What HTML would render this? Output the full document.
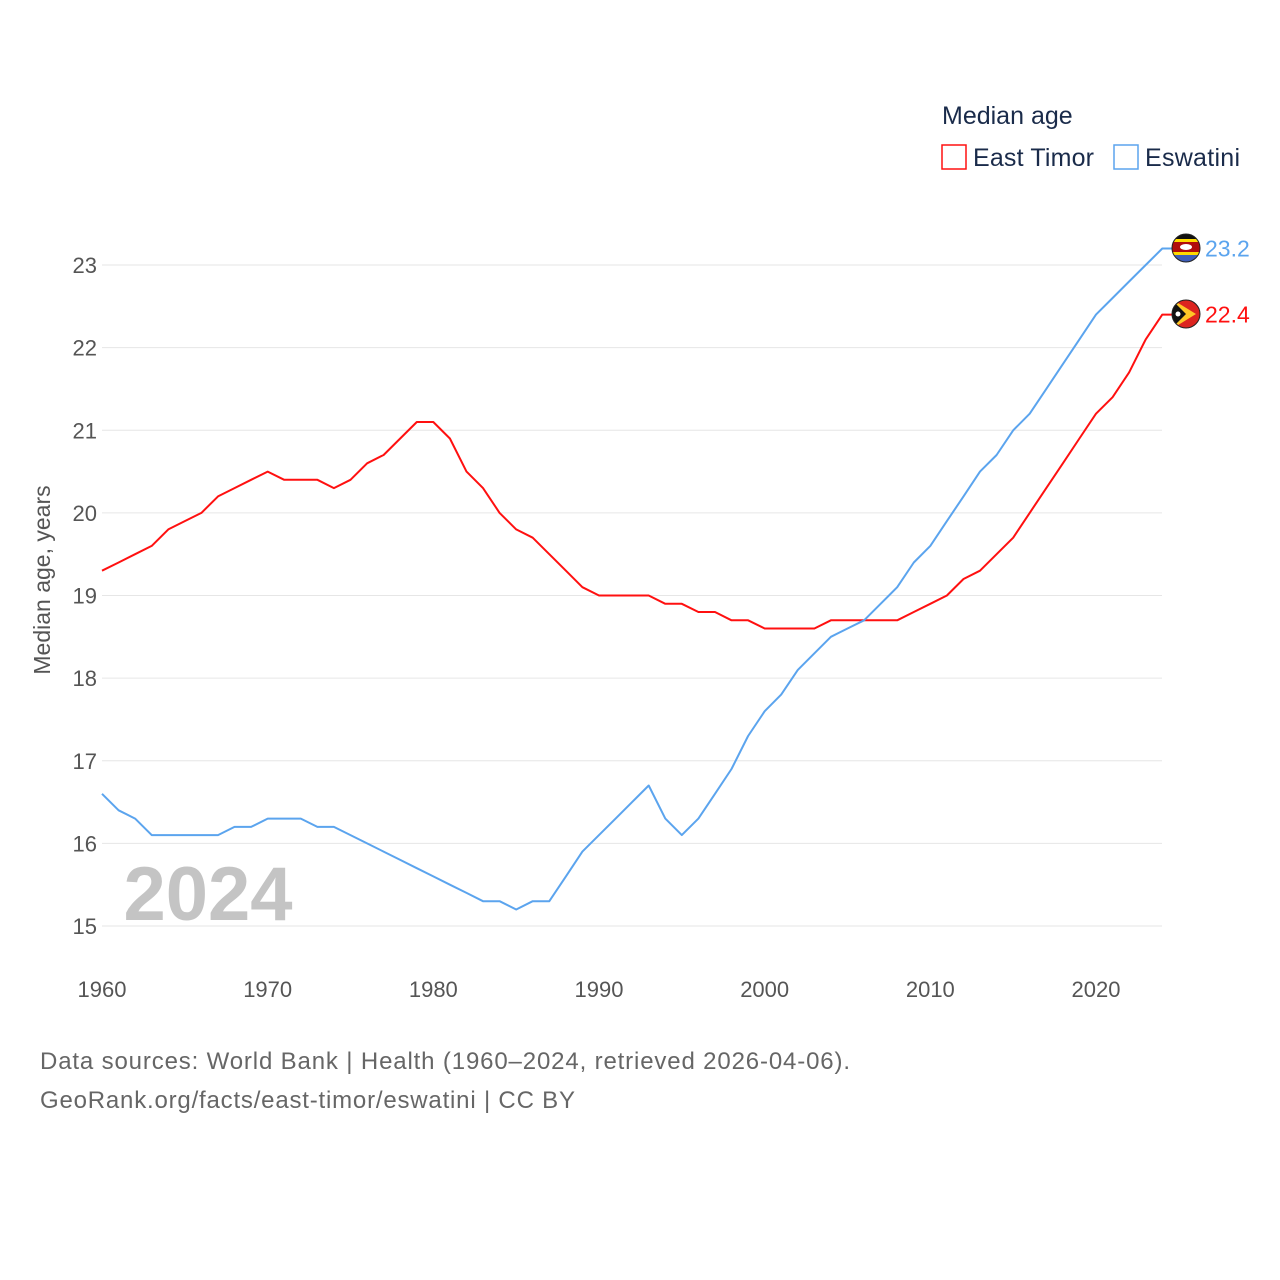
<!DOCTYPE html>
<html><head><meta charset="utf-8"><style>
body{margin:0;background:#fff;}
svg{display:block;font-family:"Liberation Sans",sans-serif;}
</style></head><body>
<svg id="chart" width="1280" height="1280">
<defs>
<clipPath id="c1"><circle cx="1186" cy="248" r="14"/></clipPath>
<clipPath id="c2"><circle cx="1186" cy="314" r="14"/></clipPath>
</defs>
<g id="grid"></g>
<g id="yticks"></g>
<g id="xticks"></g>
<text x="208" y="920" font-size="76" font-weight="bold" fill="#c4c4c4" text-anchor="middle">2024</text>
<text transform="translate(50,580) rotate(-90)" font-size="23" fill="#555" text-anchor="middle">Median age, years</text>
<g id="series"></g>
<text x="942" y="124" font-size="25" fill="#1a2b4a">Median age</text>
<g>
<rect x="942" y="145" width="24" height="24" fill="none" stroke="#ff1010" stroke-width="1.5"/>
<text x="973" y="166" font-size="25" fill="#1a2b4a" textLength="121">East Timor</text></g>
<g>
<rect x="1114" y="145" width="24" height="24" fill="none" stroke="#5ba4ee" stroke-width="1.5"/>
<text x="1145" y="166" font-size="25" fill="#1a2b4a" textLength="95">Eswatini</text></g>
<text x="40" y="1069" font-size="24" fill="#666" textLength="810">Data sources: World Bank | Health (1960–2024, retrieved 2026-04-06).</text>
<text x="40" y="1108" font-size="24" fill="#666" textLength="535">GeoRank.org/facts/east-timor/eswatini | CC BY</text>
<g clip-path="url(#c1)">
<rect x="1170" y="232" width="32" height="32" fill="#111"/>
<rect x="1170" y="239" width="32" height="3" fill="#ffd900"/>
<rect x="1170" y="242" width="32" height="10" fill="#b10c0c"/>
<rect x="1170" y="252" width="32" height="3" fill="#ffd900"/>
<rect x="1170" y="255" width="32" height="10" fill="#3e5eb9"/>
<ellipse cx="1186" cy="247" rx="6" ry="3" fill="#fff"/>
</g>
<g clip-path="url(#c2)">
<rect x="1170" y="298" width="32" height="32" fill="#dc241f"/>
<polygon points="1170,298 1196,314 1170,330" fill="#ffc726"/>
<polygon points="1170,298 1186,314 1170,330" fill="#111"/>
<circle cx="1178" cy="314" r="2.5" fill="#fff"/>
</g>
<circle cx="1186" cy="248" r="14" fill="none" stroke="#222" stroke-width="1"/>
<circle cx="1186" cy="314" r="14" fill="none" stroke="#222" stroke-width="1"/>
</svg>
<script>
const years=[];for(let y=1960;y<=2024;y++)years.push(y);
const eastTimor=[19.3,19.4,19.5,19.6,19.8,19.9,20.0,20.2,20.3,20.4,20.5,20.4,20.4,20.4,20.3,20.4,20.6,20.7,20.9,21.1,21.1,20.9,20.5,20.3,20.0,19.8,19.7,19.5,19.3,19.1,19.0,19.0,19.0,19.0,18.9,18.9,18.8,18.8,18.7,18.7,18.6,18.6,18.6,18.6,18.7,18.7,18.7,18.7,18.7,18.8,18.9,19.0,19.2,19.3,19.5,19.7,20.0,20.3,20.6,20.9,21.2,21.4,21.7,22.1,22.4];
const eswatini=[16.6,16.4,16.3,16.1,16.1,16.1,16.1,16.1,16.2,16.2,16.3,16.3,16.3,16.2,16.2,16.1,16.0,15.9,15.8,15.7,15.6,15.5,15.4,15.3,15.3,15.2,15.3,15.3,15.6,15.9,16.1,16.3,16.5,16.7,16.3,16.1,16.3,16.6,16.9,17.3,17.6,17.8,18.1,18.3,18.5,18.6,18.7,18.9,19.1,19.4,19.6,19.9,20.2,20.5,20.7,21.0,21.2,21.5,21.8,22.1,22.4,22.6,22.8,23.0,23.2];
const yTicks=[15,16,17,18,19,20,21,22,23];
const xTicks=[1960,1970,1980,1990,2000,2010,2020];
const NS="http://www.w3.org/2000/svg";
const X=v=>102+(v-1960)*(994/60);
const Y=v=>926-(v-15)*(661/8);
function mk(tag,attrs,parent,text){const e=document.createElementNS(NS,tag);for(const k in attrs)e.setAttribute(k,attrs[k]);if(text!=null)e.textContent=text;parent.appendChild(e);return e;}
const grid=document.getElementById('grid'),yt=document.getElementById('yticks'),xt=document.getElementById('xticks'),ser=document.getElementById('series');
yTicks.forEach(t=>{
const l=mk('line',{x1:102,x2:1162,y1:Y(t),y2:Y(t),stroke:'#e6e6e6','stroke-width':1},grid);


const tx=mk('text',{x:97,y:Y(t)+8,'font-size':22,fill:'#555','text-anchor':'end'},yt,String(t));


});
xTicks.forEach(t=>{
const tx=mk('text',{x:X(t),y:997,'font-size':22,fill:'#555','text-anchor':'middle'},xt,String(t));


});
function drawSeries(vals,color,name,label){
const pts=vals.map((v,i)=>X(years[i]).toFixed(1)+','+Y(v).toFixed(1));
const last=vals[vals.length-1];
pts.push((X(2024)+10)+','+Y(last).toFixed(1));
const p=mk('polyline',{points:pts.join(' '),fill:'none',stroke:color,'stroke-width':2,'stroke-linejoin':'round'},ser);


const t=mk('text',{x:1205,y:Y(last)+8,'font-size':23,fill:color},ser,label);


}
drawSeries(eastTimor,'#ff1010','east-timor',String(eastTimor[eastTimor.length-1]));
drawSeries(eswatini,'#5ba4ee','eswatini',String(eswatini[eswatini.length-1]));
</script>
</body></html>
